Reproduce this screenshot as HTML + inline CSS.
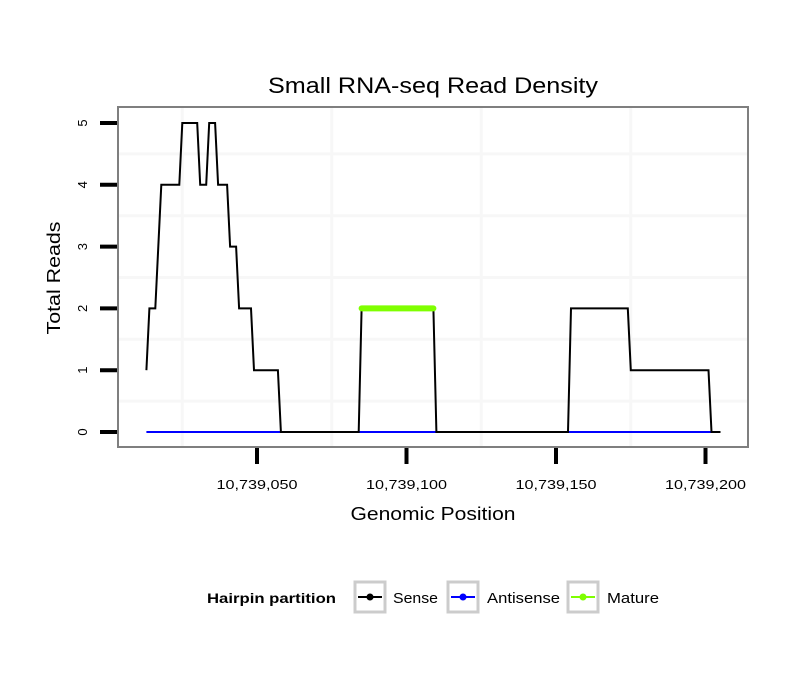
<!DOCTYPE html>
<html><head><meta charset="utf-8"><style>
body{margin:0;background:#fff}
svg text{font-family:"Liberation Sans",sans-serif}
</style></head><body>
<svg id="chart" width="810" height="690" xmlns="http://www.w3.org/2000/svg">
<text x="433" y="93" font-size="22" text-anchor="middle" textLength="330" lengthAdjust="spacingAndGlyphs">Small RNA-seq Read Density</text>
<rect x="118" y="107" width="630" height="340" fill="#fff"/>
<g id="grid"></g>
<g id="series"></g>
<rect x="118" y="107" width="630" height="340" fill="none" stroke="#7f7f7f" stroke-width="2"/>
<g id="axes"></g>
<text x="433" y="520" font-size="18" text-anchor="middle" textLength="165" lengthAdjust="spacingAndGlyphs">Genomic Position</text>
<text transform="translate(60,278) rotate(-90)" font-size="18" text-anchor="middle" textLength="113" lengthAdjust="spacingAndGlyphs">Total Reads</text>
<g>
<text x="207" y="603" font-size="14" font-weight="bold" textLength="129" lengthAdjust="spacingAndGlyphs">Hairpin partition</text>
<g>
<rect x="355" y="582" width="30" height="30" fill="#fff" stroke="#cccccc" stroke-width="3"/>
<line x1="358" y1="597" x2="382" y2="597" stroke="#000" stroke-width="2"/><circle cx="370" cy="597" r="3.5" fill="#000"/>
<text x="393" y="603" font-size="15" textLength="45" lengthAdjust="spacingAndGlyphs">Sense</text></g>
<g>
<rect x="448" y="582" width="30" height="30" fill="#fff" stroke="#cccccc" stroke-width="3"/>
<line x1="451" y1="597" x2="475" y2="597" stroke="#0000ff" stroke-width="2"/><circle cx="463" cy="597" r="3.5" fill="#0000ff"/>
<text x="487" y="603" font-size="15" textLength="73" lengthAdjust="spacingAndGlyphs">Antisense</text></g>
<g>
<rect x="568" y="582" width="30" height="30" fill="#fff" stroke="#cccccc" stroke-width="3"/>
<line x1="571" y1="597" x2="595" y2="597" stroke="#7fff00" stroke-width="2"/><circle cx="583" cy="597" r="3.5" fill="#7fff00"/>
<text x="607" y="603" font-size="15" textLength="52" lengthAdjust="spacingAndGlyphs">Mature</text></g>
</g>
</svg>
<script>
const base = 10739000;
const xTicks = [10739050, 10739100, 10739150, 10739200];
const xTickLabels = ["10,739,050", "10,739,100", "10,739,150", "10,739,200"];
const yTicks = [0, 1, 2, 3, 4, 5];
const sensePos = [13,14,16,17,18,24,25,30,31,33,34,36,37,40,41,43,44,48,49,57,58,84,85,109,110,154,155,174,175,201,202,205];
const senseVal = [1,2,2,3,4,4,5,5,4,4,5,5,4,4,3,3,2,2,1,1,0,0,2,2,0,0,2,2,1,1,0,0];
const antisensePos = [13, 202];
const antisenseVal = [0, 0];
const maturePos = [85, 109];
const matureVal = [2, 2];

const X = v => 257 + ((v > 1e6 ? v : base + v) - 10739050) * 2.99;
const Y = v => 432 - v * 61.8;
const NS = "http://www.w3.org/2000/svg";
function mk(parent, tag, attrs) {
  const e = document.createElementNS(NS, tag);
  for (const k in attrs) e.setAttribute(k, attrs[k]);
  document.getElementById(parent).appendChild(e);
  return e;
}
for (let i = 0; i < yTicks.length - 1; i++) {
  const g = mk("grid", "line", {x1:119, x2:747, y1:Y(yTicks[i]+0.5), y2:Y(yTicks[i]+0.5), stroke:"#f7f7f7", "stroke-width":3});
  
  
}
for (const t of [10739025, 10739075, 10739125, 10739175]) {
  const g = mk("grid", "line", {x1:X(t), x2:X(t), y1:108, y2:446, stroke:"#f7f7f7", "stroke-width":3});
  
  
}
function path(pos, val) {
  return pos.map((p, i) => (i ? "L" : "M") + X(p).toFixed(1) + "," + Y(val[i]).toFixed(1)).join(" ");
}
const a = mk("series", "path", {d:path(antisensePos, antisenseVal), fill:"none", stroke:"#0000ff", "stroke-width":2});


const s = mk("series", "path", {d:path(sensePos, senseVal), fill:"none", stroke:"#000", "stroke-width":2});


const m = mk("series", "path", {d:path(maturePos, matureVal), fill:"none", stroke:"#7fff00", "stroke-width":6, "stroke-linecap":"round"});


xTicks.forEach((t, i) => {
  const l = mk("axes", "line", {x1:X(t), x2:X(t), y1:448, y2:464, stroke:"#000", "stroke-width":4});
  
  
  const tx = mk("axes", "text", {x:X(t), y:489, "font-size":13, "text-anchor":"middle", textLength:81, lengthAdjust:"spacingAndGlyphs"});
  tx.textContent = xTickLabels[i];
  
  
});
yTicks.forEach(t => {
  const l = mk("axes", "line", {x1:100, x2:117, y1:Y(t), y2:Y(t), stroke:"#000", "stroke-width":4});
  
  
  const tx = mk("axes", "text", {transform:`translate(87,${Y(t)}) rotate(-90)`, "font-size":13, "text-anchor":"middle"});
  tx.textContent = String(t);
  
  
});
</script>
</body></html>
